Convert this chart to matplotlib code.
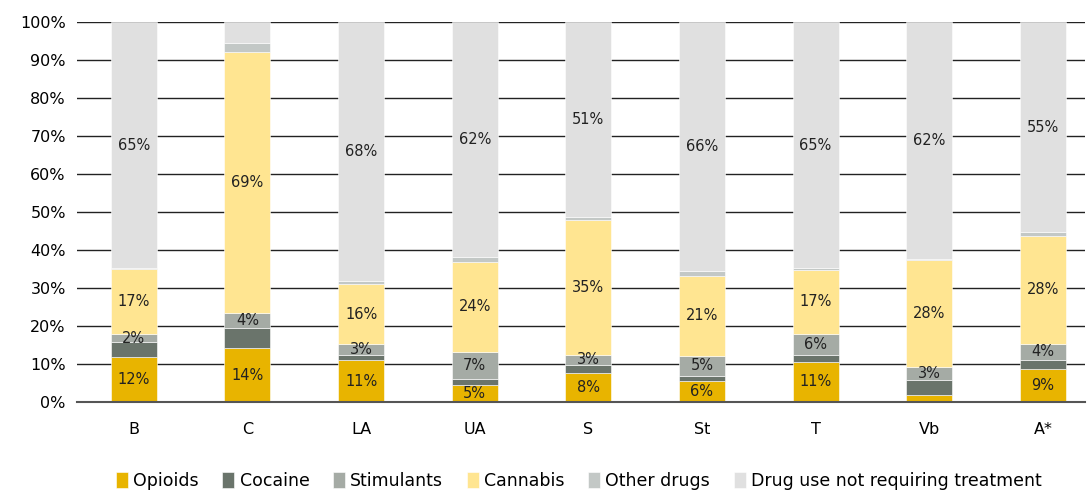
import numpy as np
import matplotlib.pyplot as plt

regions = ["B", "C", "LA", "UA", "S", "St", "T", "Vb", "A*"]
opioids = [12.0, 14.2, 11.0, 4.6, 7.6, 5.6, 10.6, 1.9, 8.6]
cocaine = [3.7, 5.3, 1.4, 1.5, 2.2, 1.4, 1.9, 4.0, 2.6]
stimulants = [2.1, 3.9, 2.9, 7.1, 2.7, 5.2, 5.5, 3.4, 4.2]
cannabis = [17.2, 68.6, 15.7, 23.8, 35.3, 21.0, 16.8, 28.0, 28.3]
other = [0.3, 2.4, 0.8, 1.1, 0.8, 1.2, 0.5, 0.3, 1.0]
no_treatment = [100 - sum(v) for v in zip(opioids, cocaine, stimulants, cannabis, other)]

series = [
    ("Opioids", opioids, "#e8b400", lambda v: v >= 3),
    ("Cocaine", cocaine, "#6a746b", lambda v: False),
    ("Stimulants", stimulants, "#a5aba5", lambda v: True),
    ("Cannabis", cannabis, "#ffe591", lambda v: True),
    ("Other drugs", other, "#c3c8c6", lambda v: False),
    ("Drug use not requiring treatment", no_treatment, "#e0e0e0", lambda v: v >= 10),
]

plt.rcParams["font.family"] = "DejaVu Sans"
fig = plt.figure(figsize=(10.92, 4.91), dpi=100)
ax = fig.add_axes([0.0705, 0.181, 0.923, 0.774])

x = np.arange(len(regions))
bottom = np.zeros(len(regions))
for name, vals, col, show in series:
    vals = np.array(vals)
    ax.bar(x, vals, 0.405, bottom=bottom, color=col, label=name,
           edgecolor="white", linewidth=0.4, zorder=3)
    for xi, b, v in zip(x, bottom, vals):
        if show(v):
            ax.text(xi, b + v / 2, f"{round(v)}%", ha="center", va="center",
                    fontsize=10.5, color="#222222", zorder=4)
    bottom += vals

ax.set_ylim(0, 100)
ax.set_xlim(-0.5, 8.37)
ax.set_yticks(range(0, 101, 10))
ax.set_yticklabels([f"{t}%" for t in range(0, 101, 10)], fontsize=11.5)
ax.set_xticks(x)
ax.set_xticklabels(regions, fontsize=11.5)
ax.tick_params(length=0, pad=8)
ax.tick_params(axis="x", pad=14)
ax.yaxis.grid(True, color="#222222", linewidth=1, zorder=0)
ax.axhline(0, color="#555555", linewidth=1.5, zorder=5, clip_on=False)
for s in ax.spines.values():
    s.set_visible(False)

fig.legend(loc="lower center", bbox_to_anchor=(0.53, -0.03), ncol=6, frameon=False,
           fontsize=12.5, handlelength=0.7, handleheight=1.0, handletextpad=0.3,
           columnspacing=1.35)

fig.savefig("out.png", dpi=100)
